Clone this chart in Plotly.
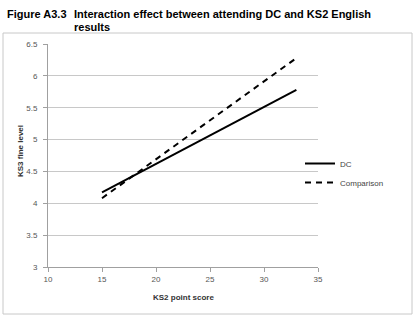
import plotly.graph_objects as go

ks2_score = [15, 33]
dc_values = [4.17, 5.78]
comparison_values = [4.08, 6.28]
x_ticks = [10, 15, 20, 25, 30, 35]
y_ticks = [3, 3.5, 4, 4.5, 5, 5.5, 6, 6.5]
y_tick_labels = ["3", "3.5", "4", "4.5", "5", "5.5", "6", "6.5"]

W, H = 416, 316
L, R, T, B = 48, 98, 44, 49
PW, PH = W - L - R, H - T - B

def px(x):
    return (x - L) / PW

def py(y):
    return (H - B - y) / PH

fig = go.Figure()
fig.add_trace(go.Scatter(x=ks2_score, y=dc_values, mode="lines", name="DC",
                         line=dict(color="black", width=2)))
fig.add_trace(go.Scatter(x=ks2_score, y=comparison_values, mode="lines", name="Comparison",
                         line=dict(color="black", width=2, dash="6px,5px")))

tickfont = dict(family="Liberation Sans, Arial", size=8, color="#555555")
fig.update_layout(
    width=W, height=H,
    margin=dict(l=L, r=R, t=T, b=B, autoexpand=False),
    paper_bgcolor="white", plot_bgcolor="white",
    showlegend=True,
    legend=dict(x=px(300), y=py(149), xanchor="left", yanchor="top",
                font=dict(family="Liberation Sans, Arial", size=8, color="#444444"),
                bgcolor="rgba(0,0,0,0)", tracegroupgap=2, itemwidth=30),
    xaxis=dict(range=[10, 35], tickvals=x_ticks, showgrid=False, zeroline=False,
               showline=True, linecolor="#a0a0a0", linewidth=1,
               ticks="outside", ticklen=4, tickcolor="#a0a0a0",
               tickfont=tickfont, automargin=False),
    yaxis=dict(range=[3, 6.5], tickvals=y_ticks, ticktext=y_tick_labels, showgrid=True, gridcolor="#c8c8c8", gridwidth=1,
               zeroline=False, showline=True, linecolor="#a0a0a0", linewidth=1,
               ticks="outside", ticklen=4, tickcolor="#a0a0a0",
               tickfont=tickfont, automargin=False, ticklabelstandoff=4),
)

# outer chart border
fig.add_shape(type="rect", xref="paper", yref="paper",
              x0=px(3), x1=px(412), y0=py(314), y1=py(33),
              line=dict(color="#c8c8c8", width=1), layer="below")

axis_title_font = dict(family="Liberation Sans, Arial", size=8, color="#333333")
fig.add_annotation(text="<b>KS2 point score</b>", xref="paper", yref="paper",
                   x=px(183), y=py(297), xanchor="center", yanchor="middle",
                   showarrow=False, font=axis_title_font)
fig.add_annotation(text="<b>KS3 fine level</b>", xref="paper", yref="paper",
                   x=px(20), y=py(151), xanchor="center", yanchor="middle",
                   textangle=-90, showarrow=False, font=axis_title_font)

titlefont = dict(family="Liberation Sans, Arial", size=11, color="black")
fig.add_annotation(text="<b>Figure A3.3</b>", xref="paper", yref="paper",
                   x=px(5), y=py(6), xanchor="left", yanchor="top",
                   showarrow=False, font=titlefont)
fig.add_annotation(text="<b>Interaction effect between attending DC and KS2 English</b>",
                   xref="paper", yref="paper", x=px(72), y=py(6),
                   xanchor="left", yanchor="top", showarrow=False, font=titlefont)
fig.add_annotation(text="<b>results</b>",
                   xref="paper", yref="paper", x=px(72), y=py(19),
                   xanchor="left", yanchor="top", showarrow=False, font=titlefont)

fig.write_html("out.html")
